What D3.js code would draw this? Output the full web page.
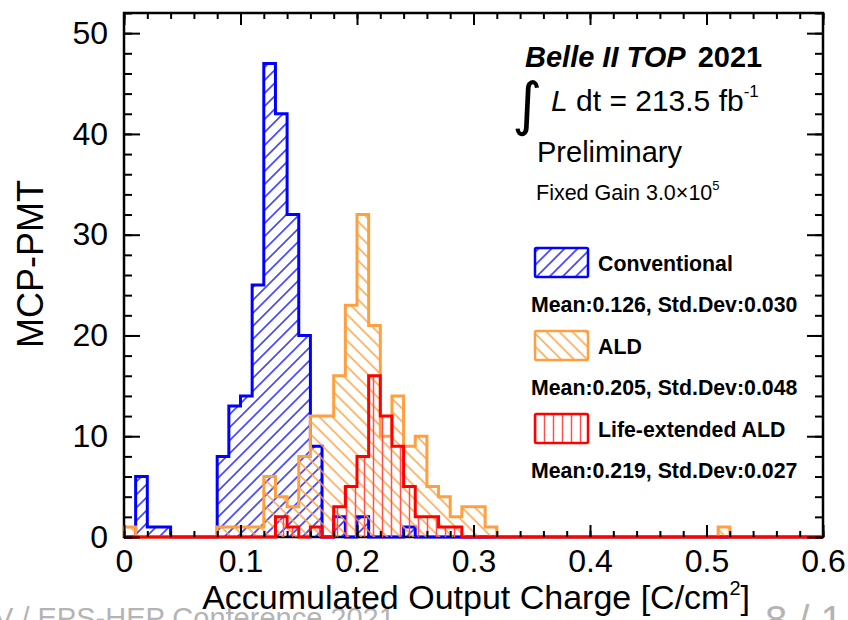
<!DOCTYPE html>
<html><head><meta charset="utf-8">
<script src="https://cdn.jsdelivr.net/npm/d3@7"></script>
<style>
body{margin:0;background:#fff}
svg{display:block}
text{font-family:"Liberation Sans",Arial,Helvetica,sans-serif}
</style>
</head><body>
<svg id="c" width="848" height="620"></svg>
<script>
// ---- data ----
const binWidth = 0.01;
const nBins = 60;
const conventional = [0,6,1,1,0,0,0,0,8,13, 14,25,47,42,32,20,9,0,2,0, 2,0,0,0,1,0,0,0,0,0, 0,0,0,0,0,0,0,0,0,0, 0,0,0,0,0,0,0,0,0,0, 0,0,0,0,0,0,0,0,0,0];
const ald          = [1,0,0,0,0,0,0,0,1,1, 1,1,6,4,3,8,12,12,16,23, 32,21,10,14,9,10,5,4,2,3, 3,1,0,0,0,0,0,0,0,0, 0,0,0,0,0,0,0,0,0,0, 0,1,0,0,0,0,0,0,0,0];
const lifeExtended = [0,0,0,0,0,0,0,0,0,0, 0,0,0,2,1,0,1,0,3,5, 8,16,12,9,5,2,2,1,1,0, 0,0,0,0,0,0,0,0,0,0, 0,0,0,0,0,0,0,0,0,0, 0,0,0,0,0,0,0,0,0,0];
const seriesNames = ["Conventional", "ALD", "Life-extended ALD"];
const seriesStats = ["Mean:0.126, Std.Dev:0.030", "Mean:0.205, Std.Dev:0.048", "Mean:0.219, Std.Dev:0.027"];
const xTickValues = [0, 0.1, 0.2, 0.3, 0.4, 0.5, 0.6];
const xTickLabels = ["0", "0.1", "0.2", "0.3", "0.4", "0.5", "0.6"];
const yTickValues = [0, 10, 20, 30, 40, 50];
const yTickLabels = ["0", "10", "20", "30", "40", "50"];

// ---- layout ----
const svg = d3.select("#c");
const L = 124, R = 823, T = 13, B = 537;
const x = d3.scaleLinear().domain([0, 0.6]).range([L, R]);
const y = d3.scaleLinear().domain([0, 52]).range([B, T]);
const colors = ["#0000ff", "#ff9f3f", "#ff0000"];
const hatchColors = ["#0000ff", "#ff9f3f", "#ff5050"];

// footer of the slide behind the chart
svg.append("text").attr("x", -6).attr("y", 628).attr("fill", "#b4b4b4")
  .style("font-size", "29px").text("V / EPS-HEP Conference 2021");
svg.append("text").attr("x", 765).attr("y", 634).attr("fill", "#b4b4b4")
  .style("font-size", "40px").text("8 / 1");
svg.append("rect").attr("x", 0).attr("y", 0).attr("width", 848).attr("height", 598).attr("fill", "#fff");

// hatch patterns
const defs = svg.append("defs");
function hatch(id, color, angle, spacing, width) {
  const p = defs.append("pattern").attr("id", id).attr("patternUnits", "userSpaceOnUse")
    .attr("width", spacing).attr("height", spacing)
    .attr("patternTransform", `rotate(${angle})`);
  p.append("line").attr("x1", spacing / 2).attr("y1", -1).attr("x2", spacing / 2).attr("y2", spacing + 1)
    .attr("stroke", color).attr("stroke-width", width);
}
hatch("h0", hatchColors[0], 45, 9.2, 1.3);
hatch("h1", hatchColors[1], -45, 9.2, 1.4);
hatch("h2", hatchColors[2], 0, 9, 1.5);

// frame
svg.append("rect").attr("x", L).attr("y", T).attr("width", R - L).attr("height", B - T)
  .attr("fill", "none").attr("stroke", "#000").attr("stroke-width", 2.5);

// histograms
const binStarts = d3.range(nBins).map(i => i * binWidth);
function stepPath(counts) {
  const p = d3.path();
  p.moveTo(x(0), y(0));
  counts.forEach((c, i) => {
    p.lineTo(x(binStarts[i]), y(c));
    p.lineTo(x(binStarts[i] + binWidth), y(c));
  });
  p.lineTo(x(nBins * binWidth), y(0));
  return p.toString();
}
[conventional, ald, lifeExtended].forEach((counts, k) => {
  const d = stepPath(counts);
  svg.append("path").attr("d", d + "Z").attr("fill", `url(#h${k})`).attr("stroke", "none");
  svg.append("path").attr("d", d).attr("fill", "none").attr("stroke", colors[k])
    .attr("stroke-width", 3).attr("stroke-linejoin", "miter");
});

// axes (ticks inside the frame)
const xMinor = d3.range(0, 31).map(i => i * 0.02);
const yMinor = d3.range(0, 27).map(i => i * 2);
function clean(g) { g.select(".domain").remove(); g.selectAll(".tick line").attr("stroke", "#000").attr("stroke-width", 2); }
const fontTick = "32px";
svg.append("g").attr("transform", `translate(0,${B})`)
  .call(d3.axisBottom(x).tickValues(xMinor).tickSize(-6).tickFormat("")).call(clean);
svg.append("g").attr("transform", `translate(0,${B})`)
  .call(d3.axisBottom(x).tickValues(xTickValues).tickSize(-12).tickPadding(12)
    .tickFormat((d, i) => xTickLabels[i])).call(clean)
  .selectAll("text").attr("fill", "#000").style("font-size", fontTick).attr("font-family", null);
svg.append("g").attr("transform", `translate(0,${T})`)
  .call(d3.axisTop(x).tickValues(xMinor).tickSize(-6).tickFormat("")).call(clean);
svg.append("g").attr("transform", `translate(0,${T})`)
  .call(d3.axisTop(x).tickValues(xTickValues).tickSize(-12).tickFormat("")).call(clean);
svg.append("g").attr("transform", `translate(${L},0)`)
  .call(d3.axisLeft(y).tickValues(yMinor).tickSize(-8).tickFormat("")).call(clean);
svg.append("g").attr("transform", `translate(${L},0)`)
  .call(d3.axisLeft(y).tickValues(yTickValues).tickSize(-16).tickPadding(16)
    .tickFormat((d, i) => yTickLabels[i])).call(clean)
  .selectAll("text").attr("fill", "#000").style("font-size", fontTick).attr("font-family", null);
svg.append("g").attr("transform", `translate(${R},0)`)
  .call(d3.axisRight(y).tickValues(yMinor).tickSize(-8).tickFormat("")).call(clean);
svg.append("g").attr("transform", `translate(${R},0)`)
  .call(d3.axisRight(y).tickValues(yTickValues).tickSize(-16).tickFormat("")).call(clean);

// axis titles
const xt = svg.append("text").attr("x", 750).attr("y", 609).attr("text-anchor", "end")
  .style("font-size", "34px").attr("fill", "#000");
xt.append("tspan").text("Accumulated Output Charge [C/cm");
xt.append("tspan").attr("dy", -14).style("font-size", "20px").text("2");
xt.append("tspan").attr("dy", 14).text("]");
svg.append("text").attr("transform", "translate(43,264) rotate(-90)").attr("text-anchor", "middle")
  .style("font-size", "36px").attr("fill", "#000").text("MCP-PMT");

// top-right labels
const t1 = svg.append("text").attr("x", 525).attr("y", 67).style("font-size", "29px")
  .style("font-weight", "bold").attr("fill", "#000");
t1.append("tspan").style("font-style", "italic").text("Belle II TOP");
t1.append("tspan").attr("dx", 12).text("2021");
svg.append("text").attr("x", 512).attr("y", 124).style("font-size", "58px")
  .style("font-family", "'DejaVu Sans'").attr("fill", "#000").text("∫");
const t2 = svg.append("text").attr("x", 551).attr("y", 111).style("font-size", "30px").attr("fill", "#000");
t2.append("tspan").style("font-style", "italic").text("L");
t2.append("tspan").text(" dt = 213.5 fb");
t2.append("tspan").attr("dy", -14).style("font-size", "17px").text("-1");
svg.append("text").attr("x", 537).attr("y", 162).style("font-size", "29px").attr("fill", "#000").text("Preliminary");
const t3 = svg.append("text").attr("x", 536).attr("y", 200).style("font-size", "21.5px").attr("fill", "#000");
t3.append("tspan").text("Fixed Gain 3.0×10");
t3.append("tspan").attr("dy", -10).style("font-size", "13px").text("5");

// legend
const boxY = [248, 331, 414];
const nameY = [271, 354, 437];
const statY = [312, 395, 478];
seriesNames.forEach((name, k) => {
  svg.append("rect").attr("x", 535).attr("y", boxY[k]).attr("width", 53).attr("height", 29)
    .attr("rx", 1.5).attr("fill", `url(#h${k})`).attr("stroke", colors[k]).attr("stroke-width", 2.5);
  svg.append("text").attr("x", 598).attr("y", nameY[k]).style("font-size", "21.3px")
    .style("font-weight", "bold").attr("fill", "#000").text(name);
  svg.append("text").attr("x", 531).attr("y", statY[k]).style("font-size", "21.3px")
    .style("font-weight", "bold").attr("fill", "#000").text(seriesStats[k]);
});
</script>
</body></html>
